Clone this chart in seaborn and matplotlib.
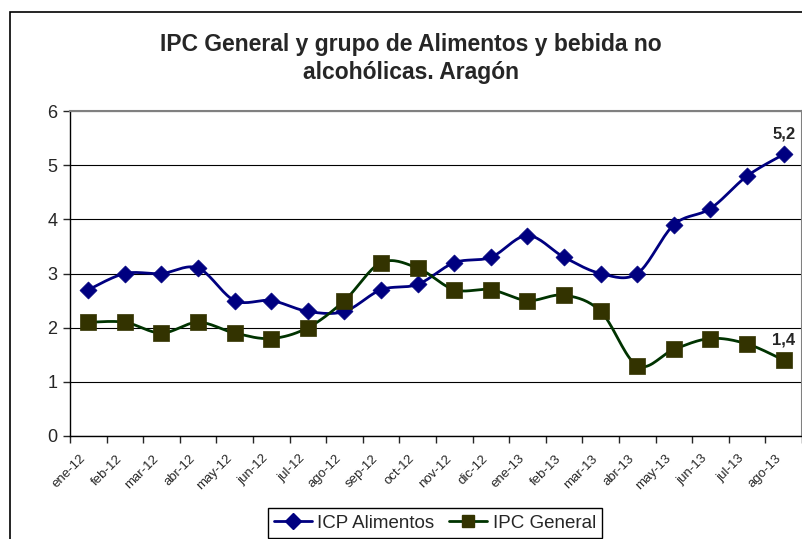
import numpy as np
import pandas as pd
import matplotlib
matplotlib.use("Agg")
import matplotlib.pyplot as plt
import matplotlib.patches as mpatches
import matplotlib.transforms as mtransforms
from matplotlib.lines import Line2D
import seaborn as sns

months = ["ene-12", "feb-12", "mar-12", "abr-12", "may-12", "jun-12", "jul-12", "ago-12",
          "sep-12", "oct-12", "nov-12", "dic-12", "ene-13", "feb-13", "mar-13", "abr-13",
          "may-13", "jun-13", "jul-13", "ago-13"]
alimentos = [2.7, 3.0, 3.0, 3.1, 2.5, 2.5, 2.3, 2.3, 2.7, 2.8, 3.2, 3.3, 3.7, 3.3, 3.0, 3.0,
             3.9, 4.2, 4.8, 5.2]
general = [2.1, 2.1, 1.9, 2.1, 1.9, 1.8, 2.0, 2.5, 3.2, 3.1, 2.7, 2.7, 2.5, 2.6, 2.3, 1.3,
           1.6, 1.8, 1.7, 1.4]

sns.set_style("white")
plt.rcParams['font.family'] = ['Liberation Sans', 'DejaVu Sans']

blue = "#000080"
green_line = "#003300"
green_mark = "#333300"


def smooth(xs, ys, n=20):
    # excel-like smoothed line (catmull-rom through the points)
    xs = np.asarray(xs, float)
    ys = np.asarray(ys, float)
    px = np.concatenate([[xs[0]], xs, [xs[-1]]])
    py = np.concatenate([[ys[0]], ys, [ys[-1]]])
    outx, outy = [], []
    for i in range(1, len(px) - 2):
        p0, p1, p2, p3 = [np.array([px[j], py[j]]) for j in (i - 1, i, i + 1, i + 2)]
        c1 = p1 + (p2 - p0) / 6
        c2 = p2 - (p3 - p1) / 6
        t = np.linspace(0, 1, n)[:, None]
        b = ((1 - t) ** 3) * p1 + 3 * ((1 - t) ** 2) * t * c1 + 3 * (1 - t) * t ** 2 * c2 + t ** 3 * p2
        outx.extend(b[:, 0])
        outy.extend(b[:, 1])
    return np.array(outx), np.array(outy)


x = np.arange(len(months)) + 0.5

fig = plt.figure(figsize=(8.03, 5.39), dpi=100)
ax = fig.add_axes([70 / 803, 1 - 436 / 539, 732 / 803, 325 / 539])

# chart frame
fig.patches.append(mpatches.Rectangle((10 / 803, -0.2), 1.2, 1.2 - 12 / 539,
                                      transform=fig.transFigure, fill=False,
                                      edgecolor="black", linewidth=1.2))

for vals, lc in [(alimentos, blue), (general, green_line)]:
    sx, sy = smooth(x, vals)
    sns.lineplot(x=sx, y=sy, ax=ax, color=lc, linewidth=2, sort=False, estimator=None)

sns.scatterplot(x=x, y=alimentos, ax=ax, marker="D", s=75, color=blue, edgecolor=blue,
                linewidth=0.5, zorder=5)
sns.scatterplot(x=x, y=general, ax=ax, marker="s", s=140, color=green_mark,
                edgecolor=green_mark, linewidth=0.5, zorder=5)

ax.annotate("5,2", (x[-1], alimentos[-1]), xytext=(0, 9), textcoords="offset points",
            ha="center", va="bottom", fontsize=12, fontweight="bold")
ax.annotate("1,4", (x[-1], general[-1]), xytext=(0, 9), textcoords="offset points",
            ha="center", va="bottom", fontsize=12, fontweight="bold")

ax.set_xlim(0, len(months))
ax.set_ylim(0, 6)
ax.set_yticks(range(0, 7))
ax.yaxis.grid(True, color="black", linewidth=0.8)
ax.set_axisbelow(True)
ax.tick_params(axis="y", length=5, width=1, labelsize=13, direction="out", left=True, pad=4)

ax.set_xticks(x)
ax.set_xticklabels(months, rotation=45, ha="right", rotation_mode="anchor", fontsize=9.5)
ax.tick_params(axis="x", which="major", length=0, pad=12)
ax.set_xticks(np.arange(0, len(months) + 1), minor=True)
ax.tick_params(axis="x", which="minor", length=5, width=1, direction="out", bottom=True)
shift = mtransforms.ScaledTranslation(-9 / 100, 0, fig.dpi_scale_trans)
for lab in ax.get_xticklabels():
    lab.set_transform(lab.get_transform() + shift)
ax.set_xlabel("")
ax.set_ylabel("")

for s in ["left", "bottom"]:
    ax.spines[s].set_color("black")
    ax.spines[s].set_linewidth(1)
for s in ["top", "right"]:
    ax.spines[s].set_color("#808080")
    ax.spines[s].set_linewidth(1.5)

fig.text(411 / 803, 1 - 45 / 539, "IPC General y grupo de Alimentos y bebida no",
         ha="center", va="center", fontsize=16.5, fontweight="bold")
fig.text(411 / 803, 1 - 73 / 539, "alcohólicas. Aragón",
         ha="center", va="center", fontsize=16.5, fontweight="bold")

handles = [
    Line2D([], [], color=blue, marker="D", markersize=8, linewidth=2, markerfacecolor=blue),
    Line2D([], [], color=green_line, marker="s", markersize=9, linewidth=2,
           markerfacecolor=green_mark, markeredgecolor=green_mark),
]
leg = fig.legend(handles, ["ICP Alimentos", "IPC General"], loc="upper center",
                 bbox_to_anchor=(435 / 803, 1 - 508 / 539), ncol=2, frameon=True,
                 fancybox=False, edgecolor="black", fontsize=13.5, handlelength=2.0,
                 handletextpad=0.3, columnspacing=0.8, borderpad=0.35, borderaxespad=0,
                 framealpha=1)
leg.get_frame().set_linewidth(1)

fig.savefig("out.png", dpi=100)
